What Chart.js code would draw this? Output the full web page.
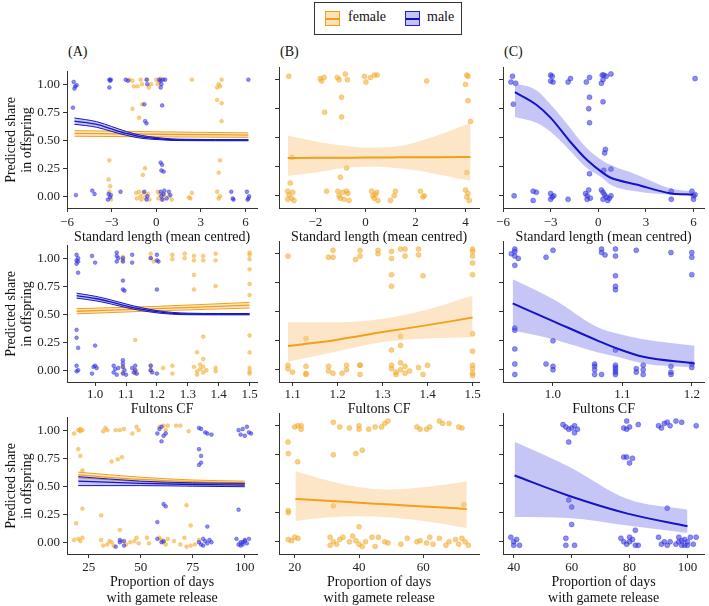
<!DOCTYPE html>
<html>
<head>
<meta charset="utf-8">
<script src="https://cdn.jsdelivr.net/npm/chart.js@4"></script>
<style>
  body { margin: 0; background: #fff; width: 709px; height: 606px; position: relative; overflow: hidden; }
  canvas { position: absolute; }
  .lab { position: absolute; font: 14px "Liberation Serif", serif; color: #111; }
  #legend { position: absolute; left: 314px; top: 2px; width: 146px; height: 31px; border: 1px solid #333; }
  .sw { position: absolute; top: 8px; width: 13px; height: 13px; }
  .sw i { position: absolute; left: 0; right: 0; top: 6px; height: 2px; }
</style>
</head>
<body>
<div id="legend">
  <div class="sw" style="left:10px;border:1px solid #F0A01E;background:#FCE2B8"><i style="background:#F0A01E"></i></div>
  <div class="lab" style="left:33px;top:6px">female</div>
  <div class="sw" style="left:90px;border:1px solid #2020D0;background:#C4C4F4"><i style="background:#1010C0"></i></div>
  <div class="lab" style="left:112px;top:6px">male</div>
</div>
<div class="lab" style="left:68px;top:44px">(A)</div>
<div class="lab" style="left:280px;top:44px">(B)</div>
<div class="lab" style="left:504px;top:44px">(C)</div>

<canvas id="a1"></canvas><canvas id="b1"></canvas><canvas id="c1"></canvas>
<canvas id="a2"></canvas><canvas id="b2"></canvas><canvas id="c2"></canvas>
<canvas id="a3"></canvas><canvas id="b3"></canvas><canvas id="c3"></canvas>

<script>
// ---- data ----
const yTicks = [0, 0.25, 0.5, 0.75, 1];
const yLabels = ['0.00', '0.25', '0.50', '0.75', '1.00'];

const slTicksAC = [-6, -3, 0, 3, 6];
const slLabelsAC = ['\u22126', '\u22123', '0', '3', '6'];
const slTicksB = [-2, 0, 2, 4];
const slLabelsB = ['\u22122', '0', '2', '4'];
const cfTicksA = [1.0, 1.1, 1.2, 1.3, 1.4, 1.5];
const cfTicksB = [1.1, 1.2, 1.3, 1.4, 1.5];
const cfTicksC = [1.0, 1.1, 1.2];
const gdTicksA = [25, 50, 75, 100];
const gdTicksB = [20, 40, 60];
const gdTicksC = [40, 60, 80, 100];

// standard length, panel A
const slA_fem = [[-1.8,1.04],[-1.6,1.03],[-1.5,0.98],[-1.25,0.98],[-1.05,1.04],[-0.95,1.0],[-0.6,1.04],[-0.5,0.97],[-0.35,1.0],[0.0,1.04],[0.1,1.0],[0.2,1.02],[0.3,1.05],[2.4,1.04],[4.2,1.0],[4.3,0.98],[4.1,0.97],[4.4,1.04],
  [-1.6,0.78],[-0.95,0.82],[-1.15,0.70],[4.1,0.86],[4.4,0.83],[4.4,0.67],[-3.15,0.32],[-3.2,0.15],[4.3,0.32],[4.2,0.21],[-0.9,0.19],[-0.75,0.25],[-3.1,0.09],
  [-3.15,0.04],[-3.05,-0.03],[-1.35,0.03],[-1.3,-0.02],[-1.15,0.04],[-1.05,0.0],[-1.0,-0.03],[-0.85,0.03],[-0.75,-0.01],[-0.55,0.02],[-0.45,-0.03],[0.1,0.04],[0.15,-0.02],[0.25,0.02],[0.45,-0.03],[0.5,0.01],[0.85,0.0],[1.05,-0.03],[2.4,0.03],[2.3,-0.02],[2.2,-0.01],[4.1,0.04],[4.2,-0.02],[4.3,0.0]];
const slA_male = [[-5.55,1.02],[-5.45,0.98],[-5.35,0.99],[-5.5,0.96],[-5.6,0.79],[-3.15,1.04],[-3.05,1.04],[-3.15,0.97],[-3.1,1.03],[-2.05,1.04],[-1.9,1.03],[-0.65,1.04],[-0.6,1.0],[0.2,1.04],[0.3,1.03],[0.45,1.04],[0.6,1.04],[0.35,1.0],[0.3,0.97],[6.2,1.04],
  [-0.8,0.82],[0.4,0.81],[-0.75,0.67],[-0.65,0.65],
  [0.3,0.30],[0.4,0.28],[0.35,0.23],[0.5,0.22],
  [-5.4,0.01],[-4.3,0.05],[-4.15,0.02],[-3.2,0.02],[-3.1,-0.01],[-3.25,-0.03],[-3.05,0.01],[-2.4,0.04],[-0.8,0.04],[-0.65,-0.03],[-0.6,0.0],[0.3,0.04],[0.35,0.0],[0.4,-0.03],[0.5,0.02],[0.55,0.05],[0.7,-0.02],[0.85,0.04],[0.95,0.01],[5.05,0.04],[5.15,-0.02],[5.2,-0.03],[6.1,0.04],[6.2,-0.02],[6.25,0.0],[6.15,-0.03]];
// fit rows: [x, lower, estimate, upper]
const slA_femFit = [[-5.5,0.535,0.56,0.585],[0,0.53,0.553,0.575],[6.2,0.525,0.545,0.565]];
const slA_maleFit = [[-5.5,0.642,0.67,0.698],[-4,0.615,0.64,0.665],[-3,0.578,0.60,0.622],[-2,0.543,0.56,0.577],[-1,0.517,0.53,0.543],[0,0.506,0.515,0.524],[1,0.498,0.505,0.512],[2,0.496,0.502,0.508],[4,0.495,0.50,0.505],[6.2,0.495,0.50,0.505]];

// standard length, panel B
const slB_fem = [[-3.06,1.03],[-1.8,1.01],[-1.75,0.99],[-1.65,1.02],[-1.12,1.02],[-1.05,1.0],[-0.8,1.05],[-0.72,1.0],[-0.04,1.03],[0.02,0.98],[0.2,1.02],[0.36,1.04],[0.47,1.04],[2.45,0.99],[4.05,1.04],[4.1,1.03],[4.0,0.96],[4.1,0.82],[4.2,0.64],
  [-1.63,0.72],[-0.95,0.85],[-0.95,0.68],[-0.75,0.24],[-1.0,0.16],[-2.93,0.33],[-3.0,0.11],[4.05,0.20],
  [-3.1,0.04],[-3.05,0.01],[-2.95,-0.02],[-3.1,-0.03],[-2.9,0.03],[-2.85,-0.04],[-1.55,0.04],[-1.1,0.04],[-1.05,0.0],[-1.0,-0.02],[-0.9,0.03],[-0.85,-0.03],[-0.7,0.02],[-0.65,-0.04],[-0.75,0.04],[0.25,0.04],[0.3,0.0],[0.35,-0.02],[0.45,0.03],[0.5,-0.04],[0.4,0.01],[1.0,-0.04],[1.15,0.0],[1.2,0.04],[2.2,0.04],[2.3,-0.01],[2.35,0.0],[4.0,0.05],[4.1,0.02],[4.05,-0.01],[4.15,-0.04]];
const slB_femFit = [[-3.1,0.17,0.325,0.52],[-2,0.20,0.327,0.47],[-1,0.235,0.328,0.435],[0,0.25,0.33,0.415],[1,0.245,0.331,0.42],[2,0.22,0.332,0.46],[3,0.18,0.333,0.53],[4.2,0.13,0.335,0.63]];

// standard length, panel C
const slC_male = [[-5.4,1.03],[-5.5,0.98],[-5.2,0.97],[-5.35,0.79],[-3.0,1.04],[-2.9,1.03],[-3.0,0.99],[-2.85,0.98],[-1.9,0.98],[-1.75,1.01],[-0.75,0.98],[-0.55,1.02],[0.25,1.04],[0.35,1.04],[0.3,1.0],[0.2,0.97],[0.5,1.03],[0.8,1.05],[6.1,1.01],
  [-0.55,0.85],[-0.6,0.75],[-0.55,0.63],[0.3,0.81],[0.4,0.37],[0.45,0.40],[0.35,0.22],[0.8,0.23],[-0.55,0.19],
  [-5.3,0.0],[-4.1,0.04],[-3.9,0.03],[-4.1,-0.04],[-3.0,0.02],[-2.9,-0.01],[-3.0,-0.03],[-2.8,0.0],[-1.9,-0.03],[-0.8,0.02],[-0.7,0.0],[-0.6,0.05],[-0.5,-0.02],[-0.7,-0.03],[0.2,0.05],[0.3,0.03],[0.4,0.01],[0.5,-0.01],[0.3,-0.03],[0.6,-0.04],[0.8,0.0],[0.7,-0.02],[4.6,0.04],[4.6,-0.03],[5.9,0.04],[6.0,-0.03],[6.1,0.01],[6.0,0.0]];
const slC_maleFit = [[-5.25,0.68,0.894,0.97],[-3.9,0.63,0.785,0.91],[-2.98,0.55,0.67,0.785],[-1.85,0.40,0.48,0.60],[-0.72,0.24,0.31,0.41],[0.31,0.15,0.195,0.30],[0.72,0.10,0.16,0.27],[2.47,0.037,0.095,0.18],[4.5,0.01,0.023,0.066],[5.97,0.003,0.01,0.04]];

// Fultons CF, panel A
const cfA_fem = [[1.09,1.01],[1.09,0.98],[1.18,1.04],[1.18,1.0],[1.19,0.97],[1.25,1.03],[1.25,0.99],[1.29,1.04],[1.29,1.0],[1.32,1.02],[1.32,0.98],[1.32,0.85],[1.32,0.72],[1.35,1.02],[1.35,0.98],[1.39,1.04],[1.39,0.98],[1.39,0.75],[1.5,1.05],[1.5,1.03],[1.5,0.99],[1.5,0.9],[1.5,0.77],[1.5,0.67],
  [1.13,0.27],[1.33,0.16],[1.35,0.30],[1.35,0.1],[1.5,0.31],[1.5,0.16],
  [1.09,0.03],[1.09,-0.02],[1.13,0.0],[1.13,-0.03],[1.18,0.04],[1.18,0.0],[1.22,0.02],[1.25,0.04],[1.25,-0.03],[1.32,0.03],[1.33,-0.01],[1.33,-0.04],[1.34,0.05],[1.34,0.01],[1.35,0.03],[1.35,-0.02],[1.36,0.0],[1.39,0.02],[1.39,-0.01],[1.5,0.02],[1.5,-0.03],[1.5,-0.01]];
const cfA_male = [[0.94,1.03],[0.945,1.0],[0.94,0.98],[0.945,0.97],[0.94,0.95],[0.945,0.87],[0.99,1.02],[1.0,0.96],[1.07,1.05],[1.07,1.02],[1.075,1.0],[1.07,0.97],[1.09,1.0],[1.09,0.97],[1.09,0.8],[1.09,0.72],[1.095,0.71],[1.12,1.03],[1.12,0.96],[1.18,1.0],[1.2,1.03],[1.2,0.98],[1.205,0.97],[1.2,0.72],
  [0.94,0.36],[0.94,0.29],[0.945,0.2],[0.94,0.04],[0.945,0.0],[0.94,-0.01],[1.0,0.22],[1.0,0.04],[1.005,0.02],[0.99,-0.03],[0.995,0.03],[1.06,0.04],[1.065,0.01],[1.06,-0.02],[1.07,-0.04],[1.075,0.02],[1.09,0.09],[1.09,0.06],[1.09,0.03],[1.095,0.0],[1.09,-0.03],[1.1,-0.04],[1.12,0.02],[1.125,-0.02],[1.13,0.04],[1.13,0.0],[1.135,-0.03],[1.18,0.04],[1.18,0.0],[1.185,-0.02],[1.2,-0.03]];
const cfA_femFit = [[0.94,0.503,0.526,0.549],[1.2,0.53,0.55,0.57],[1.5,0.555,0.58,0.605]];
const cfA_maleFit = [[0.94,0.643,0.665,0.687],[1.0,0.62,0.64,0.66],[1.05,0.592,0.61,0.628],[1.1,0.559,0.575,0.591],[1.15,0.532,0.545,0.558],[1.2,0.512,0.522,0.532],[1.25,0.5,0.508,0.516],[1.3,0.495,0.502,0.509],[1.4,0.494,0.5,0.506],[1.5,0.494,0.5,0.506]];

// Fultons CF, panel B
const cfB_fem = [[1.09,0.98],[1.18,0.97],[1.19,1.03],[1.19,0.97],[1.25,1.03],[1.25,0.98],[1.24,0.95],[1.29,1.03],[1.29,1.0],[1.32,1.02],[1.32,0.96],[1.34,1.04],[1.35,1.04],[1.35,0.98],[1.38,1.04],[1.38,0.99],[1.39,0.81],[1.32,0.82],[1.32,0.72],[1.5,1.04],[1.5,1.02],[1.5,0.98],[1.5,0.92],[1.5,0.82],
  [1.13,0.27],[1.32,0.17],[1.34,0.29],[1.34,0.21],[1.5,0.31],[1.5,0.16],
  [1.09,0.04],[1.09,0.01],[1.1,-0.02],[1.13,0.03],[1.13,-0.03],[1.13,-0.04],[1.18,0.03],[1.18,-0.01],[1.19,-0.03],[1.22,0.04],[1.22,0.0],[1.21,-0.03],[1.25,0.04],[1.25,0.04],[1.25,-0.04],[1.32,0.04],[1.32,0.01],[1.33,-0.02],[1.34,0.06],[1.34,0.0],[1.35,0.03],[1.35,-0.03],[1.36,-0.01],[1.33,-0.04],[1.38,0.02],[1.39,-0.04],[1.4,0.04],[1.5,0.04],[1.5,0.01],[1.5,-0.03],[1.5,-0.05]];
const cfB_femFit = [[1.09,0.07,0.205,0.41],[1.2,0.16,0.26,0.41],[1.3,0.24,0.325,0.44],[1.4,0.27,0.385,0.52],[1.5,0.28,0.45,0.64]];

// Fultons CF, panel C
const cfC_male = [[0.945,1.04],[0.945,1.02],[0.94,1.0],[0.945,0.98],[0.95,0.96],[0.945,0.9],[0.99,0.97],[1.0,1.03],[1.07,1.04],[1.07,1.01],[1.075,0.99],[1.09,1.04],[1.09,0.98],[1.09,0.81],[1.09,0.72],[1.09,0.69],[1.12,1.03],[1.17,1.01],[1.2,1.01],[1.2,0.97],[1.2,0.82],
  [0.945,0.36],[0.945,0.34],[0.945,0.18],[1.0,0.25],[1.09,0.17],
  [0.945,0.05],[0.945,-0.04],[0.99,0.05],[1.0,0.03],[1.0,0.0],[1.06,0.05],[1.06,0.03],[1.06,0.0],[1.06,-0.04],[1.07,-0.04],[1.09,0.04],[1.09,0.02],[1.09,0.0],[1.09,-0.02],[1.09,-0.04],[1.12,0.01],[1.12,-0.02],[1.13,0.04],[1.13,0.0],[1.13,-0.04],[1.17,0.03],[1.17,-0.02],[1.17,-0.04],[1.2,0.05],[1.2,0.02]];
const cfC_maleFit = [[0.942,0.342,0.572,0.78],[1.0,0.264,0.42,0.61],[1.065,0.15,0.25,0.365],[1.094,0.11,0.18,0.31],[1.13,0.055,0.112,0.264],[1.204,0.02,0.055,0.207]];

// days with gamete release, panel A
const gdA_fem = [[18,0.97],[20,1.0],[21,1.01],[22,1.0],[21,0.99],[33,1.02],[34,1.0],[32,0.99],[38,1.0],[40,1.0],[42,1.01],[46,0.97],[48,1.03],[49,1.0],[59,1.03],[61,1.04],[62,1.0],[63,1.04],[67,1.04],[69,1.04],[73,0.99],
  [20,0.83],[21,0.77],[22,0.64],[22,0.3],[19,0.17],[31,0.24],[36,0.72],[39,0.74],[41,0.76],[40,0.11],[72,0.33],[74,0.15],
  [18,0.02],[20,0.03],[22,0.04],[21,0.01],[31,0.02],[32,-0.03],[34,-0.02],[35,0.01],[36,0.0],[37,-0.03],[41,0.01],[43,-0.02],[45,0.0],[47,0.01],[48,0.04],[49,-0.01],[53,0.04],[54,-0.01],[59,0.04],[60,0.02],[61,0.0],[62,-0.02],[63,0.03],[66,0.01],[69,-0.02],[71,0.04],[72,-0.04],[74,-0.03],[76,-0.02],[78,0.02]];
const gdA_male = [[58,0.97],[59,1.01],[60,0.90],[61,0.95],[62,0.97],[60,1.03],[78,1.02],[79,1.01],[81,0.98],[82,0.97],[84,0.96],[78,0.83],[79,0.77],[79,0.71],[78,0.69],[97,1.0],[99,1.01],[101,1.03],[102,0.98],[103,0.97],[98,0.96],[100,0.95],
  [58,0.18],[61,0.34],[62,0.32],[82,0.14],[97,0.29],
  [38,-0.04],[40,0.0],[40,0.02],[42,-0.03],[42,0.01],[58,0.03],[60,0.0],[61,0.01],[78,0.0],[79,-0.02],[80,0.03],[81,0.01],[82,-0.01],[83,0.02],[80,-0.03],[84,0.0],[96,0.03],[97,-0.02],[98,-0.03],[99,0.0],[100,0.02],[101,-0.01],[100,0.01],[102,0.03],[98,0.0],[99,-0.02]];
const gdA_femFit = [[20,0.575,0.60,0.625],[50,0.54,0.56,0.58],[75,0.525,0.54,0.555],[100,0.515,0.53,0.545]];
const gdA_maleFit = [[20,0.505,0.545,0.585],[50,0.505,0.525,0.545],[75,0.50,0.515,0.53],[100,0.495,0.51,0.525]];

// days with gamete release, panel B
const gdB_fem = [[17.9,0.86],[18,0.76],[20.9,0.69],[20,0.99],[21,1.0],[22,1.0],[22,0.97],[32,1.03],[34,0.99],[37,0.98],[40,1.0],[40,0.97],[43,0.97],[45,0.99],[47,0.99],[48,1.02],[49,1.04],[58,0.99],[59,0.97],[61,0.97],[62,0.99],[65,1.04],[66,1.02],[68,1.02],[71,0.99],[72,0.98],[32,0.75],[39,0.76],[41,0.79],
  [18,0.27],[18,0.25],[32,0.31],[72.6,0.32],[40,0.13],
  [18,0.02],[19,0.01],[20,0.04],[21,0.03],[31,0.04],[31,-0.03],[32,0.0],[33,-0.02],[34,0.02],[35,0.04],[37,0.0],[38,0.05],[39,0.01],[40,-0.02],[41,-0.04],[42,0.0],[44,0.04],[45,-0.04],[46,0.04],[48,0.0],[49,-0.01],[53,-0.02],[55,0.03],[58,0.0],[59,0.01],[61,-0.01],[62,0.04],[63,-0.02],[65,0.03],[67,-0.03],[68,0.0],[70,0.02],[71,-0.02],[72,0.03],[73,0.0],[74,-0.03]];
const gdB_femFit = [[20.2,0.18,0.369,0.61],[30,0.21,0.353,0.53],[40,0.22,0.337,0.47],[50,0.21,0.321,0.45],[60,0.18,0.305,0.47],[73.5,0.12,0.283,0.52]];

// days with gamete release, panel C
const gdC_male = [[57,1.01],[58,0.99],[59,0.97],[60,0.98],[61,0.94],[59,0.86],[62,0.97],[61,1.0],[78,0.98],[79,1.04],[80,0.99],[79,0.97],[83,1.01],[90,1.0],[91,0.98],[92,1.02],[93,1.03],[94,1.0],[96,1.04],[98,1.03],[103,1.0],[78,0.73],[79,0.73],[80,0.68],[81,0.72],
  [59,0.36],[60,0.30],[60,0.15],[93,0.29],[82,0.10],
  [39,0.04],[40,0.0],[41,0.02],[42,-0.03],[40,-0.03],[58,0.03],[58,-0.03],[61,-0.03],[77,0.03],[78,0.0],[79,-0.02],[80,0.04],[81,0.02],[80,0.0],[82,-0.03],[83,-0.03],[90,0.04],[91,-0.02],[92,0.0],[93,-0.03],[94,0.0],[96,-0.02],[97,0.04],[98,0.01],[99,-0.03],[100,0.0],[101,0.04],[102,-0.02],[98,-0.03],[103,0.04],[99,0.02],[100,-0.03],[97,0.0]];
const gdC_maleFit = [[40.3,0.214,0.571,0.863],[59,0.206,0.397,0.649],[79.3,0.14,0.243,0.369],[100,0.077,0.134,0.277]];

// ---- drawing ----
const FONT = '"Liberation Serif", "Times New Roman", serif';
const ORANGE = '#F0A01E', ORANGE_PT = 'rgba(242,168,40,0.55)', ORANGE_RIB = 'rgba(250,200,130,0.45)';
const BLUE = '#1414C4', BLUE_PT = 'rgba(45,45,225,0.55)', BLUE_RIB = 'rgba(105,105,232,0.38)';

function fitSets(rows, line, fill, edges) {
  const col = i => rows.map(r => ({x: r[0], y: r[i]}));
  const base = {pointRadius: 0, cubicInterpolationMode: 'monotone'};
  return [
    {...base, data: col(2), borderColor: line, borderWidth: edges ? 1.3 : 2, fill: false},
    {...base, data: col(1), borderColor: edges ? line : 'rgba(0,0,0,0)', borderWidth: edges ? 1 : 0, fill: false},
    {...base, data: col(3), borderColor: edges ? line : 'rgba(0,0,0,0)', borderWidth: edges ? 1 : 0, fill: '-1', backgroundColor: fill},
  ];
}

function pointSet(pts, color, r) {
  return {
    data: pts.map(p => ({x: p[0], y: p[1]})), showLine: false,
    pointRadius: r, pointBackgroundColor: color, pointBorderColor: color, pointBorderWidth: 0.7
  };
}

const rows = [{y0: 67, y1: 208, xH: 37, tp: 3}, {y0: 241, y1: 382, xH: 35, tp: 1}, {y0: 413, y1: 554, xH: 52, tp: 2}];
const cols = [{x0: 67, x1: 261, yW: 67}, {x0: 279, x1: 483, yW: 10}, {x0: 503, x1: 708, yW: 10}];

function panel(id, row, col, xr, xTicks, xLabels, xTitle, datasets) {
  const R = rows[row], C = cols[col];
  const el = document.getElementById(id);
  const w = C.yW + (C.x1 - C.x0) + 1, h = 6 + (R.y1 - R.y0) + R.xH;
  el.style.left = (C.x0 - C.yW) + 'px';
  el.style.top = (R.y0 - 6) + 'px';
  el.width = w; el.height = h;
  el.style.width = w + 'px'; el.style.height = h + 'px';
  const axisStyle = {
    grid: {drawOnChartArea: false, tickLength: 4, tickColor: '#333'},
    border: {color: '#333', width: 1}
  };
  new Chart(el, {
    type: 'line',
    data: {datasets},
    options: {
      responsive: false, animation: false, devicePixelRatio: 1, events: [],
      layout: {padding: {top: 6, right: 1, left: 0, bottom: 0}},
      plugins: {legend: {display: false}, tooltip: {enabled: false}},
      scales: {
        x: {
          type: 'linear', min: xr[0], max: xr[1], ...axisStyle,
          afterBuildTicks: s => { s.ticks = xTicks.map(v => ({value: v})); },
          afterFit: s => { s.height = R.xH; },
          ticks: {callback: (v, i) => xLabels[i], color: '#222', padding: R.tp, maxRotation: 0, autoSkip: false,
                  font: {family: FONT, size: 13}},
          title: {display: true, text: xTitle, color: '#111', padding: 0,
                  font: {family: FONT, size: 14, lineHeight: 1.15}}
        },
        y: {
          type: 'linear', min: -0.105, max: 1.11, ...axisStyle,
          afterBuildTicks: s => { s.ticks = yTicks.map(v => ({value: v})); },
          afterFit: s => { s.width = C.yW; },
          ticks: {display: col === 0, callback: (v, i) => yLabels[i], color: '#222', padding: 3,
                  font: {family: FONT, size: 13}},
          title: {display: col === 0, text: ['Predicted share', 'in offspring'], color: '#111',
                  padding: {top: 2.5, bottom: 0}, font: {family: FONT, size: 14}}
        }
      }
    }
  });
}

const slTitle = 'Standard length (mean centred)';
const cfTitle = 'Fultons CF';
const gdTitle = ['Proportion of days', 'with gamete release'];
const fmt1 = t => t.map(v => v.toFixed(1));
const fmt0 = t => t.map(v => String(v));

panel('a1', 0, 0, [-6, 6.8], slTicksAC, slLabelsAC, slTitle, [
  ...fitSets(slA_maleFit, BLUE, BLUE_RIB, true), ...fitSets(slA_femFit, ORANGE, ORANGE_RIB, true),
  pointSet(slA_male, BLUE_PT, 1.9), pointSet(slA_fem, ORANGE_PT, 1.9)]);
panel('b1', 0, 1, [-3.45, 4.55], slTicksB, slLabelsB, slTitle, [
  ...fitSets(slB_femFit, ORANGE, ORANGE_RIB, false), pointSet(slB_fem, ORANGE_PT, 2.5)]);
panel('c1', 0, 2, [-6, 6.68], slTicksAC, slLabelsAC, slTitle, [
  ...fitSets(slC_maleFit, BLUE, BLUE_RIB, false), pointSet(slC_male, BLUE_PT, 2.5)]);

panel('a2', 1, 0, [0.909, 1.525], cfTicksA, fmt1(cfTicksA), cfTitle, [
  ...fitSets(cfA_maleFit, BLUE, BLUE_RIB, true), ...fitSets(cfA_femFit, ORANGE, ORANGE_RIB, true),
  pointSet(cfA_male, BLUE_PT, 1.9), pointSet(cfA_fem, ORANGE_PT, 1.9)]);
panel('b2', 1, 1, [1.07, 1.515], cfTicksB, fmt1(cfTicksB), cfTitle, [
  ...fitSets(cfB_femFit, ORANGE, ORANGE_RIB, false), pointSet(cfB_fem, ORANGE_PT, 2.5)]);
panel('c2', 1, 2, [0.928, 1.218], cfTicksC, fmt1(cfTicksC), cfTitle, [
  ...fitSets(cfC_maleFit, BLUE, BLUE_RIB, false), pointSet(cfC_male, BLUE_PT, 2.5)]);

panel('a3', 2, 0, [14.6, 106], gdTicksA, fmt0(gdTicksA), gdTitle, [
  ...fitSets(gdA_maleFit, BLUE, BLUE_RIB, true), ...fitSets(gdA_femFit, ORANGE, ORANGE_RIB, true),
  pointSet(gdA_male, BLUE_PT, 1.9), pointSet(gdA_fem, ORANGE_PT, 1.9)]);
panel('b3', 2, 1, [15.1, 77.4], gdTicksB, fmt0(gdTicksB), gdTitle, [
  ...fitSets(gdB_femFit, ORANGE, ORANGE_RIB, false), pointSet(gdB_fem, ORANGE_PT, 2.5)]);
panel('c3', 2, 2, [36.3, 105.8], gdTicksC, fmt0(gdTicksC), gdTitle, [
  ...fitSets(gdC_maleFit, BLUE, BLUE_RIB, false), pointSet(gdC_male, BLUE_PT, 2.5)]);
</script>
</body>
</html>
